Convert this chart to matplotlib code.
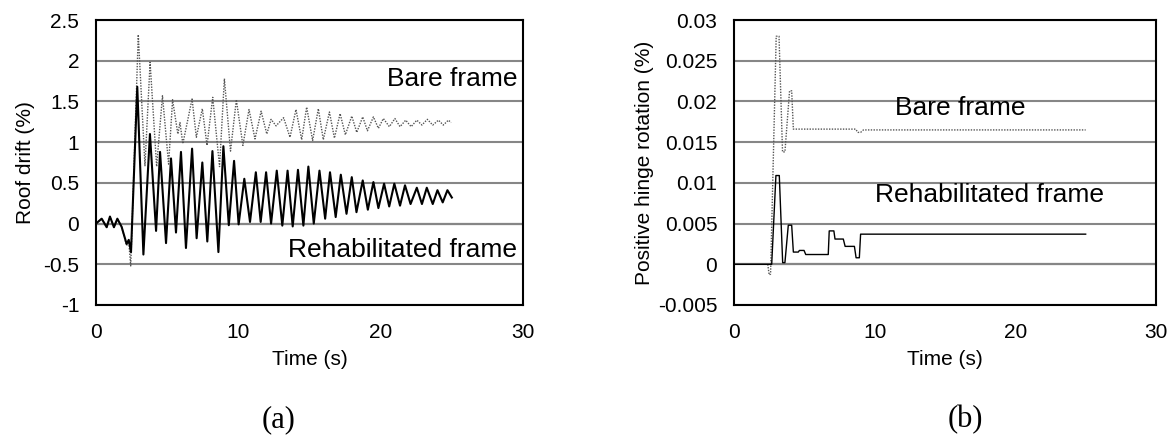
import matplotlib.pyplot as plt

plt.rcParams['font.family'] = ['Liberation Sans', 'DejaVu Sans']

# (a) roof drift time histories (peaks / troughs)
rehab_t = [0, 0.40, 0.75, 0.98, 1.26, 1.50, 1.80, 2.15, 2.30, 2.46, 2.90, 3.33, 3.79, 4.22,
           4.50, 4.92, 5.27, 5.62, 5.97, 6.32, 6.75, 7.07, 7.47, 7.82, 8.18, 8.60, 8.95,
           9.33, 9.70, 10.02, 10.42, 10.82, 11.23, 11.57, 11.95, 12.30, 12.70, 13.09, 13.46,
           13.82, 14.19, 14.57, 14.92, 15.30, 15.70, 16.10, 16.44, 16.84, 17.20, 17.60,
           17.97, 18.30, 18.74, 19.10, 19.49, 19.84, 20.24, 20.60, 20.96, 21.36, 21.71,
           22.10, 22.54, 22.90, 23.24, 23.66, 23.99, 24.36, 24.69, 25.0]
rehab_drift = [0, 0.06, -0.045, 0.086, -0.045, 0.06, -0.04, -0.25, -0.20, -0.35, 1.68, -0.38,
               1.10, -0.09, 0.88, -0.24, 0.80, -0.11, 0.88, -0.30, 0.92, -0.18, 0.75, -0.22,
               0.89, -0.35, 0.95, -0.02, 0.77, -0.01, 0.55, 0.02, 0.63, 0.02, 0.63, 0.0, 0.65,
               -0.025, 0.65, -0.035, 0.66, -0.025, 0.70, 0.0, 0.65, 0.06, 0.63, 0.08, 0.60,
               0.12, 0.57, 0.14, 0.53, 0.17, 0.51, 0.19, 0.49, 0.21, 0.49, 0.22, 0.47, 0.24,
               0.44, 0.24, 0.44, 0.24, 0.41, 0.26, 0.41, 0.32]

bare_t = [0, 0.40, 0.75, 0.98, 1.26, 1.50, 1.80, 2.15, 2.30, 2.44, 2.97, 3.44, 3.80, 4.26,
          4.67, 5.10, 5.38, 5.75, 5.90, 6.10, 6.75, 7.05, 7.47, 7.80, 8.20, 8.68, 9.02, 9.45,
          9.86, 10.32, 10.75, 11.17, 11.60, 12.00, 12.30, 12.65, 13.18, 13.63, 14.05, 14.45,
          14.80, 15.22, 15.62, 15.97, 16.40, 16.75, 17.15, 17.52, 17.97, 18.32, 18.74, 19.07,
          19.49, 19.84, 20.19, 20.61, 21.00, 21.36, 21.76, 22.14, 22.54, 22.90, 23.28, 23.66,
          24.06, 24.40, 24.76, 24.95]
bare_drift = [0, 0.06, -0.045, 0.086, -0.045, 0.06, -0.04, -0.27, -0.22, -0.52, 2.32, 0.71,
              1.98, 0.70, 1.57, 0.73, 1.52, 1.10, 1.24, 0.98, 1.53, 1.06, 1.41, 0.96, 1.55,
              0.70, 1.78, 0.89, 1.52, 0.96, 1.40, 1.04, 1.38, 1.10, 1.28, 1.20, 1.30, 1.06,
              1.40, 1.03, 1.43, 1.02, 1.41, 1.03, 1.37, 1.05, 1.35, 1.09, 1.32, 1.12, 1.31,
              1.14, 1.31, 1.17, 1.29, 1.19, 1.29, 1.19, 1.27, 1.19, 1.27, 1.21, 1.28, 1.21,
              1.27, 1.21, 1.27, 1.24]

# (b) positive hinge rotation
rehab_rot_t = [0, 2.68, 2.98, 3.22, 3.46, 3.62, 3.86, 4.10, 4.22, 4.57, 4.65, 4.98, 5.10,
               6.70, 6.77, 7.10, 7.18, 7.77, 7.90, 8.56, 8.68, 8.91, 9.00, 25.0]
rehab_rot = [0, 0, 0.0109, 0.0109, 0.0002, 0.0002, 0.0048, 0.0048, 0.0015, 0.0015, 0.0017,
             0.0017, 0.0012, 0.0012, 0.0041, 0.0041, 0.0031, 0.0031, 0.0022, 0.0022, 0.0008,
             0.0008, 0.0037, 0.0037]
bare_rot_t = [2.40, 2.50, 2.60, 3.00, 3.20, 3.45, 3.62, 3.95, 4.10, 4.22, 8.65, 8.80, 9.00,
              9.20, 25.0]
bare_rot = [0, -0.0013, -0.0012, 0.028, 0.028, 0.0138, 0.0138, 0.0213, 0.0213, 0.0166,
            0.0166, 0.0162, 0.0162, 0.0165, 0.0165]

fig = plt.figure(figsize=(11.72, 4.37), dpi=100)
ax1 = fig.add_axes([96 / 1172, 1 - 305 / 437, 427 / 1172, 285 / 437])
ax2 = fig.add_axes([734 / 1172, 1 - 305 / 437, 422 / 1172, 285 / 437])

fs = 15
for ax in (ax1, ax2):
    ax.grid(axis='y', color='#868686', lw=1.5, zorder=0)
    ax.axhline(0, color='black', lw=1.5, zorder=1)
    ax.set_xlim(0, 30)
    ax.set_xticks([0, 10, 20, 30])
    ax.tick_params(length=0, labelsize=fs)
    ax.tick_params(axis='x', pad=13)
    ax.tick_params(axis='y', pad=12)
    for s in ax.spines.values():
        s.set_linewidth(1.5)
    ax.set_xlabel('Time (s)', fontsize=fs, labelpad=6)

ax1.plot(bare_t, bare_drift, color='#555555', lw=1, ls=(0, (1, 1)), zorder=2)
ax1.plot(rehab_t, rehab_drift, color='black', lw=1.5, zorder=3)
ax1.set_ylim(-1, 2.5)
ax1.set_yticks([-1, -0.5, 0, 0.5, 1, 1.5, 2, 2.5])
ax1.set_yticklabels(['-1', '-0.5', '0', '0.5', '1', '1.5', '2', '2.5'])
ax1.set_ylabel('Roof drift (%)', fontsize=fs, labelpad=6)
ax1.text(29.6, 1.69, 'Bare frame', fontsize=19, ha='right', va='baseline')
ax1.text(29.6, -0.41, 'Rehabilitated frame', fontsize=19, ha='right', va='baseline')

ax2.plot(bare_rot_t, bare_rot, color='#555555', lw=1, ls=(0, (1, 1)), zorder=2)
ax2.plot(rehab_rot_t, rehab_rot, color='black', lw=1, zorder=3)
ax2.set_ylim(-0.005, 0.03)
ax2.set_yticks([-0.005, 0, 0.005, 0.01, 0.015, 0.02, 0.025, 0.03])
ax2.set_yticklabels(['-0.005', '0', '0.005', '0.01', '0.015', '0.02', '0.025', '0.03'])
ax2.set_ylabel('Positive hinge rotation (%)', fontsize=fs, labelpad=3)
ax2.text(11.44, 0.01833, 'Bare frame', fontsize=19, ha='left', va='baseline')
ax2.text(26.3, 0.00764, 'Rehabilitated frame', fontsize=19, ha='right', va='baseline')

fig.text(279 / 1172, 1 - 420 / 437, '(a)', fontsize=22, family='Liberation Serif',
         ha='center', va='center')
fig.text(965 / 1172, 1 - 420 / 437, '(b)', fontsize=22, family='Liberation Serif',
         ha='center', va='center')

fig.savefig('out.png', dpi=100)
